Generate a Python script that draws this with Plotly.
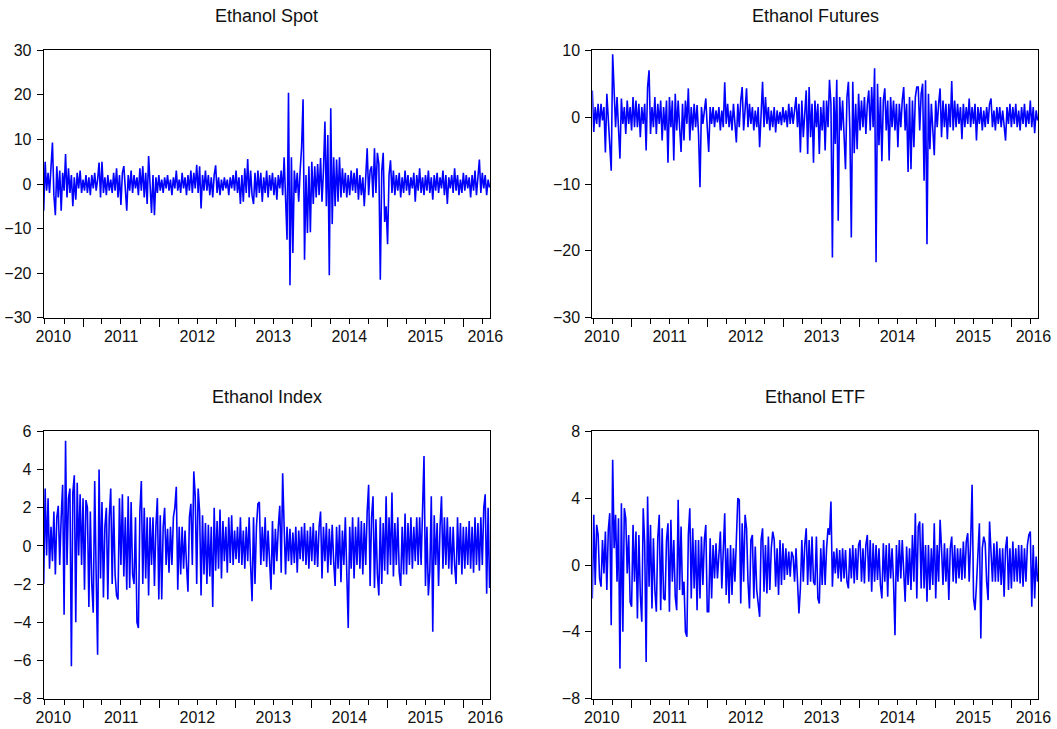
import pandas as pd
import plotly.graph_objects as go

# ---------------- data (weekly readings of the daily return series) ----------------
START_DATE = "2010-06-25"
X_RANGE = ["2010-06-25", "2016-05-08"]

spot = [
    -6.0, 5.0, -1.5, 2.5, -2.0, 3.5, 9.3, -2.5, -7.0, 4.0,
    -3.0, 3.0, -6.0, 2.5, -1.5, 6.7, -3.0, 3.5, -2.0, 2.0,
    -5.0, 1.5, -3.5, 2.5, -1.0, 3.0, -2.0, 1.0, -1.5, 2.0,
    -2.0, 1.5, -2.5, 2.0, -1.0, 2.5, -1.5, 1.0, 4.8, -3.0,
    5.0, -2.0, 1.5, -2.5, 2.0, -1.5, 1.0, -2.0, 2.5, -1.5,
    3.5, -3.0, 2.0, -4.7, 2.5, 4.0, -1.0, -6.0, 2.0, -1.5,
    3.0, -2.0, 2.0, -1.0, 1.5, -2.5, 3.5, -1.5, 4.0, -3.0,
    2.5, -4.5, 6.3, -2.0, -6.5, 2.0, -7.0, 1.5, -2.0, 2.0,
    -1.5, 1.0, -2.0, 1.5, -1.0, 2.0, -1.5, 1.0, -2.5, 1.5,
    -1.0, 3.0, -1.5, 1.0, -2.0, 2.5, -1.0, 1.5, -2.5, 2.0,
    -1.5, 3.0, -2.0, 2.5, -1.0, 4.3, -2.0, 4.0, -5.5, 2.0,
    -1.5, 3.0, -1.5, 2.0, -2.5, 1.5, -3.0, 2.0, 4.2, -2.0,
    1.5, -2.5, 1.0, -1.5, 1.5, -1.0, 1.0, -2.5, 1.5, -1.0,
    2.0, -1.5, 3.0, -2.0, 1.5, -4.5, 2.0, -4.0, 3.5, -2.0,
    5.6, -3.0, 3.0, -2.5, -4.5, 2.5, -3.0, 3.0, -2.0, 2.5,
    -4.0, 1.5, -2.0, 3.0, -3.0, 2.0, -1.5, 2.5, -2.5, 1.5,
    -3.5, 2.0, -1.0, 3.0, -2.5, 6.0, -4.0, -12.5, 20.5, -22.7,
    6.0, -15.5, 3.0, -2.0, 2.5, -4.0, 3.0, 8.3, 19.0, -17.0,
    2.0, -11.0, 4.0, -10.8, 5.0, -4.5, 4.0, -3.0, 4.5, -2.5,
    5.8, -4.0, 3.0, 14.0, -5.0, 11.0, -20.5, 17.0, -9.0, 6.0,
    -5.0, 5.5, -4.0, 6.0, -3.0, 3.5, -2.0, 2.5, -3.0, 2.0,
    -2.5, 3.0, -1.5, 2.5, -2.0, 3.5, -3.5, 2.0, -2.5, 1.5,
    -5.0, 3.0, 8.0, -2.5, 3.0, 4.0, -3.0, 8.0, -2.0, 7.0,
    4.5, -21.5, 3.0, 7.0, -8.5, -5.0, -13.5, 2.0, 5.3, -2.0,
    3.0, -2.5, 2.0, -1.5, 2.5, -3.0, 1.5, -2.0, 3.0, -1.5,
    2.0, -2.5, 1.5, -1.0, 2.5, -4.0, 2.0, -1.5, 3.5, -2.0,
    1.5, -2.5, 2.0, -1.5, 3.0, -2.0, 1.5, -3.5, 2.0, -1.5,
    2.5, -2.0, 1.5, -1.0, 3.0, -2.5, 2.0, -4.5, 1.5, -1.0,
    2.0, -2.0, 3.5, -1.5, 2.0, -2.5, 1.0, -2.0, 2.5, -1.5,
    2.0, -1.0, 1.5, -3.0, 2.0, -1.5, 3.0, -2.5, 1.5, 5.5,
    -2.0, 2.5, -1.0, 2.0, -2.5, 1.0, -0.8,
]

futures = [
    4.0, -2.2, 1.5, -1.0, 2.0, -1.5, 2.0, -0.5, 1.5, -5.3,
    3.5, -1.0, -5.0, -8.0, 9.4, 4.5, -1.5, 3.0, -2.0, -6.2,
    2.8, -1.0, 1.5, -2.5, 2.5, -1.0, 1.5, -2.0, 3.0, -1.5,
    2.5, -1.5, 2.0, -3.0, 1.5, -1.0, 2.0, -5.0, 4.5, 7.0,
    -2.5, 1.5, -1.5, 3.0, -2.5, 2.0, -1.0, 2.5, -3.5, 1.5,
    -2.0, 2.5, -6.8, 3.0, -1.5, 2.5, -6.5, 3.5, -2.0, 2.5,
    -1.5, -5.2, 2.0, -3.5, 2.5, -1.0, 4.3, -3.5, 1.5, -2.0,
    2.0, -1.5, 1.8, -2.5, -10.5, 1.5, -1.0, 1.5, 2.8, -1.5,
    -5.2, 1.5, -1.0, 1.5, -1.5, 1.0, -0.8, 1.5, -2.0, 1.0,
    -1.5, 5.2, -1.0, 2.0, -1.5, 1.0, -2.0, 2.0, -1.0, -3.8,
    2.0, -1.5, 2.5, 4.5, -2.0, 2.0, 4.3, -1.5, 2.0, -1.0,
    1.5, -2.0, 1.0, -1.5, 1.5, -4.5, 1.0, 5.3, -1.5, 3.0,
    -1.0, 1.5, -2.0, 1.0, -1.5, 1.5, -2.3, 1.0, -1.0, 0.8,
    -1.2, 1.5, -0.8, 1.0, -1.5, 2.0, -1.0, 1.5, -1.0, 1.5,
    3.0, -1.5, 2.0, -5.3, 2.5, -3.0, 1.5, 4.0, -5.5, 4.5,
    -3.0, 2.0, -6.8, 2.5, -1.5, 2.0, -5.5, 1.5, -2.0, 2.5,
    -5.0, 2.5, -1.5, 5.6, 2.0, -21.0, 3.0, -4.0, 5.6, -15.5,
    3.0, -2.0, 2.5, -3.0, -7.8, 3.0, 5.3, -2.0, -18.0, 5.3,
    -5.4, 2.0, -4.8, 3.5, -2.0, 2.5, -1.5, 3.0, -2.5, 2.0,
    4.0, -2.0, 4.5, -1.5, 7.3, -21.7, 5.0, -4.2, 3.0, -6.6,
    2.5, 4.3, -2.0, 2.5, -6.5, 3.0, -1.5, 2.5, -2.0, 2.0,
    -4.5, 2.0, -1.5, 2.5, 4.5, -2.0, 2.0, -8.2, 3.0, -7.8,
    2.5, -4.5, 3.0, 4.5, 4.5, -2.0, 3.5, 5.0, -9.5, 5.5,
    -19.0, 3.5, -4.8, 2.0, -2.5, -5.7, 2.5, -1.5, 2.0, 4.3,
    -3.0, 2.5, -1.5, 2.0, -3.3, 2.0, -1.5, 5.4, -2.0, 2.5,
    -1.5, 2.0, -1.0, 1.5, -3.3, 2.0, -1.5, 1.5, -1.0, 2.8,
    -1.5, 1.5, -1.0, 2.0, -3.5, 1.5, -1.0, 1.5, -2.0, 1.0,
    -1.5, 1.5, -1.0, 2.0, 2.8, -1.5, 1.0, -2.0, 1.5, -1.0,
    1.5, -1.5, 1.0, -2.0, -3.5, 1.5, -1.0, 2.0, -1.5, 1.5,
    -1.0, 2.0, -1.5, 1.0, -2.0, 1.5, -1.0, 2.0, -1.5, 1.0,
    -1.0, 2.5, -1.5, 1.5, -2.4, 1.0, -0.5,
]

index_series = [
    -2.0, 3.0, -0.5, 2.5, -1.2, 1.0, -0.8, 1.8, -1.5, 1.5,
    2.1, -1.0, 1.5, 3.2, -3.6, 5.5, -1.0, 2.5, 3.0, -6.3,
    2.8, 3.7, -4.0, 3.3, -0.5, 2.7, -1.0, 2.5, -2.3, 2.4,
    2.0, -3.2, 1.8, -2.0, -3.5, 3.4, -1.5, -5.7, 4.0, -1.7,
    2.3, -2.7, 1.0, 2.0, -2.8, 1.5, 3.0, -2.0, 2.1, -1.5,
    -2.6, -2.8, 2.5, -1.0, 2.7, -1.6, 1.5, -2.3, 2.6, -2.2,
    2.3, -1.5, -2.0, 1.5, -4.0, -4.3, 1.8, 3.4, -2.0, 2.0,
    -1.7, 1.5, -2.6, 1.5, -1.0, 1.5, -2.1, 1.0, 2.5, -2.8,
    1.6, -2.8, 1.0, 2.0, -1.0, 0.9, -1.4, 1.0, -1.0, 1.5,
    2.0, 3.1, -2.3, 1.0, -1.5, 1.0, -1.2, 0.8, -1.0, -2.4,
    1.5, 2.2, -1.0, 3.9, 2.6, -2.0, 3.0, 1.8, -2.6, 1.6,
    -1.5, 1.2, -2.0, 1.1, -1.6, 1.0, -3.2, 2.0, -1.3, 1.3,
    -1.2, 1.9, -1.7, 1.3, -0.8, 1.0, -1.4, 1.5, -0.9, 1.6,
    -1.0, 0.8, -0.7, 1.0, -0.9, 1.5, -1.0, 0.8, -1.2, 1.0,
    -0.8, 1.5, -1.0, -2.9, 1.5, -2.0, 1.0, 2.2, 2.3, -1.0,
    1.0, -0.8, 1.5, -1.1, 0.8, -1.0, -2.3, 1.3, -1.5, 0.9,
    -0.8, 1.0, 2.1, -1.4, 3.8, 1.0, -1.5, 1.0, -0.8, 0.9,
    -1.0, 0.7, -0.9, 1.0, -1.4, 0.8, -0.7, 1.0, -0.8, 1.2,
    -1.0, 0.8, -1.2, 1.0, -0.8, 1.2, -1.0, 0.8, -1.1, 1.0,
    1.8, -1.7, 1.0, -0.8, 1.2, -1.4, 0.9, -1.0, 1.1, -0.8,
    -2.1, 1.0, -1.2, 1.1, -1.9, 0.8, -1.0, 1.5, -0.8, -4.3,
    1.0, -1.2, 1.5, -1.7, 1.0, -1.0, 1.5, -1.2, 1.3, -1.5,
    1.2, -1.0, 1.8, 3.2, -2.1, 1.5, 2.6, -2.2, 1.4, -1.5,
    -2.6, 1.5, -2.0, 1.2, -1.3, 2.6, -1.5, 1.5, -1.0, 2.8,
    -1.6, 1.2, -1.0, 1.5, -1.4, -2.1, 1.0, -1.5, 1.7, -1.5,
    1.2, -1.0, 1.5, -1.2, 1.0, -0.8, 1.5, -1.0, 1.5, -1.0,
    1.9, 4.7, -2.1, 1.0, -2.6, -1.3, 2.6, -4.5, 1.6, -1.0,
    1.2, -2.1, 1.0, 2.6, -1.2, 1.5, -1.0, 1.5, -1.2, 1.0,
    -1.5, 1.0, -1.0, -2.0, 1.5, -1.0, 1.2, -1.5, 1.0, -1.2,
    1.0, -1.0, 1.3, -1.2, 1.0, -1.4, 1.5, -1.0, 1.2, -1.3,
    1.5, -1.0, 2.0, 2.7, -2.5, 2.0, -2.2,
]

etf = [
    -2.0, 3.0, -1.2, 2.4, 1.8, -0.8, -1.3, 1.5, -0.5, 2.0,
    -1.5, 2.1, 3.1, -3.6, 6.3, 1.0, 3.0, -1.0, 2.8, -6.2,
    3.7, -4.0, 3.4, 2.8, -0.5, 1.8, -2.2, -2.5, 2.4, -1.0,
    2.0, -3.2, 1.8, -1.8, -3.4, 3.4, 1.3, -5.8, 4.1, -1.3,
    2.4, -2.6, 1.6, -1.5, -2.8, 1.6, 3.0, -2.7, 2.2, -2.0,
    -2.1, 1.5, 2.5, -2.8, 2.7, -1.0, 1.5, -1.9, -2.7, 3.9,
    -1.5, 2.3, -1.8, -1.0, -4.0, -4.3, 1.8, 3.4, -2.0, 2.2,
    -1.4, 1.5, -2.7, 1.5, -2.0, 1.7, -1.2, 1.5, 2.4, -2.8,
    -2.8, 1.6, -2.0, 1.2, -0.8, 1.3, -0.8, 1.0, 2.0, -1.4,
    1.0, 3.1, -1.8, 1.0, -2.3, 1.2, -1.8, 1.0, -1.0, 1.5,
    4.0, 3.9, -2.3, 2.5, -1.0, 3.0, 2.2, -1.0, -2.6, 1.5,
    1.8, -2.0, 1.1, -1.5, -2.2, -3.1, 1.5, 2.2, -1.6, 1.2,
    -1.7, 1.7, -1.5, 1.0, 2.0, 1.5, -1.3, 1.0, -1.8, 1.5,
    -1.2, 1.3, -0.9, 1.0, -0.6, 0.8, -0.7, 0.8, 0.5, -1.0,
    1.0, -0.8, -2.9, -1.4, 1.5, -1.0, 1.2, 2.2, -1.2, 1.5,
    -1.0, 1.7, -1.0, -1.2, 1.7, -2.0, -2.3, 1.0, -1.2, 1.5,
    -1.2, 1.0, 2.2, 1.8, 3.8, -1.3, 0.8, -0.5, 1.0, -0.8,
    0.9, -1.0, 1.0, -0.8, 0.9, -1.0, -1.4, 1.0, -0.8, 1.2,
    -1.1, 1.0, -0.9, 1.2, 1.5, -1.0, 1.0, -1.1, 1.2, 1.8,
    -1.0, 1.5, -1.6, 1.3, -1.0, 1.2, -0.9, 1.0, -1.2, -2.0,
    1.3, -1.0, 1.2, -1.9, 1.3, -0.8, 1.0, -1.0, -4.2, 1.2,
    -1.0, 1.5, -0.8, 1.5, -1.0, -2.2, 1.1, -1.2, 1.0, -1.5,
    1.8, -1.0, 3.1, -2.0, 2.3, 2.6, -1.4, 2.5, -1.4, 1.2,
    -2.2, 1.2, -1.5, 1.0, -1.2, 2.5, -2.0, 1.2, -1.0, 2.7,
    1.0, -1.2, 1.3, -1.0, 1.0, -2.1, 1.0, 1.7, -1.0, 1.2,
    -1.1, 1.0, -0.8, 1.0, -0.9, 1.4, -0.8, 1.4, 1.9, -1.0,
    1.4, 4.8, -2.0, -2.7, -1.2, 1.0, 2.5, -4.4, 1.0, 1.7,
    1.3, -1.0, -2.1, 2.6, 1.0, -1.0, 1.3, -1.0, 1.4, -1.0,
    1.0, -1.2, 1.0, -1.9, 1.0, 1.7, -1.5, 1.0, -1.4, 1.4,
    -1.0, 1.0, -1.0, 1.2, -1.1, 1.2, -1.3, 1.0, -1.0, 1.2,
    1.8, 2.0, -2.5, 1.2, -2.0, 0.5, -1.0,
]

titles = ["Ethanol Spot", "Ethanol Futures", "Ethanol Index", "Ethanol ETF"]
year_labels = ["2010", "2011", "2012", "2013", "2014", "2015", "2016"]
year_label_dates = ["2010-08-10", "2011-07-02", "2012-07-02", "2013-07-02",
                    "2014-07-02", "2015-07-02", "2016-04-16"]
year_start_dates = ["2011-01-01", "2012-01-01", "2013-01-01",
                    "2014-01-01", "2015-01-01", "2016-01-01"]
quarter_dates = [d.strftime("%Y-%m-%d") for d in
                 pd.date_range("2010-07-01", "2016-04-01", freq="QS")]

y_ranges = [[-30, 30], [-30, 10], [-8, 6], [-8, 8]]
y_ticks = [[-30, -20, -10, 0, 10, 20, 30], [-30, -20, -10, 0, 10],
           [-8, -6, -4, -2, 0, 2, 4, 6], [-8, -4, 0, 4, 8]]

# ---------------- layout geometry ----------------
W, H = 1057, 729
x_domains = [[43.7 / W, 490 / W], [592.3 / W, 1038 / W]]
y_domains = [[1 - 317.7 / H, 1 - 50.3 / H], [1 - 698.7 / H, 1 - 431.3 / H]]
panel_pos = [(0, 0), (1, 0), (0, 1), (1, 1)]  # (col, row)

FONT = "Liberation Sans, Arial, sans-serif"
TXT = "#111111"
series_list = [spot, futures, index_series, etf]

fig = go.Figure()
layout = dict(
    template="none",
    width=W, height=H, autosize=False,
    margin=dict(l=0, r=0, t=0, b=0, pad=0),
    paper_bgcolor="white", plot_bgcolor="white", showlegend=False,
    font=dict(family=FONT, size=16, color=TXT),
    annotations=[],
)

for k, (vals, (col, row)) in enumerate(zip(series_list, panel_pos), start=1):
    xa = "x" if k == 1 else f"x{k}"
    ya = "y" if k == 1 else f"y{k}"
    lab = f"x{k + 4}"
    dates = pd.date_range(START_DATE, periods=len(vals), freq="7D")
    fig.add_trace(go.Scatter(x=dates, y=vals, mode="lines",
                             line=dict(color="#0000FF", width=1.6),
                             xaxis=xa, yaxis=ya, hoverinfo="skip"))
    fig.add_trace(go.Scatter(x=[], y=[], mode="lines", xaxis=lab, yaxis=ya,
                             hoverinfo="skip"))
    kx = "xaxis" if k == 1 else f"xaxis{k}"
    ky = "yaxis" if k == 1 else f"yaxis{k}"
    layout[kx] = dict(
        domain=x_domains[col], anchor=ya, type="date", range=X_RANGE,
        automargin=False,
        showline=True, mirror=True, linecolor="black", linewidth=1,
        showgrid=False, zeroline=False,
        tickmode="array", tickvals=year_start_dates, showticklabels=False,
        ticks="outside", ticklen=8, tickwidth=1, tickcolor="black",
        minor=dict(tickmode="array", tickvals=quarter_dates, ticks="outside",
                   ticklen=5, tickwidth=1, tickcolor="black", showgrid=False),
    )
    layout[f"xaxis{k + 4}"] = dict(
        overlaying=xa, anchor=ya, type="date", range=X_RANGE, side="bottom",
        automargin=False,
        showline=False, showgrid=False, zeroline=False,
        tickmode="array", tickvals=year_label_dates, ticktext=year_labels,
        ticks="", ticklabelstandoff=7,
        tickfont=dict(family=FONT, size=16, color=TXT),
    )
    layout[ky] = dict(
        domain=y_domains[row], anchor=xa, range=y_ranges[k - 1],
        automargin=False,
        showline=True, mirror=True, linecolor="black", linewidth=1,
        showgrid=False, zeroline=False,
        tickmode="array", tickvals=y_ticks[k - 1],
        ticks="outside", ticklen=6, tickwidth=1, tickcolor="black",
        ticklabelstandoff=2,
        tickfont=dict(family=FONT, size=16, color=TXT),
    )
    xd = x_domains[col]
    layout["annotations"].append(dict(
        text=titles[k - 1], xref="paper", yref="paper",
        x=(xd[0] + xd[1]) / 2, y=y_domains[row][1] + 34.5 / H,
        xanchor="center", yanchor="middle", showarrow=False,
        font=dict(family=FONT, size=18, color=TXT),
    ))

fig.update_layout(**layout)
fig.write_html(
    "out.html",
    config={"displayModeBar": False, "staticPlot": True},
    post_script="document.body.style.margin='0px';"
                "document.body.style.padding='0px';"
                "document.body.style.overflow='hidden';",
)
